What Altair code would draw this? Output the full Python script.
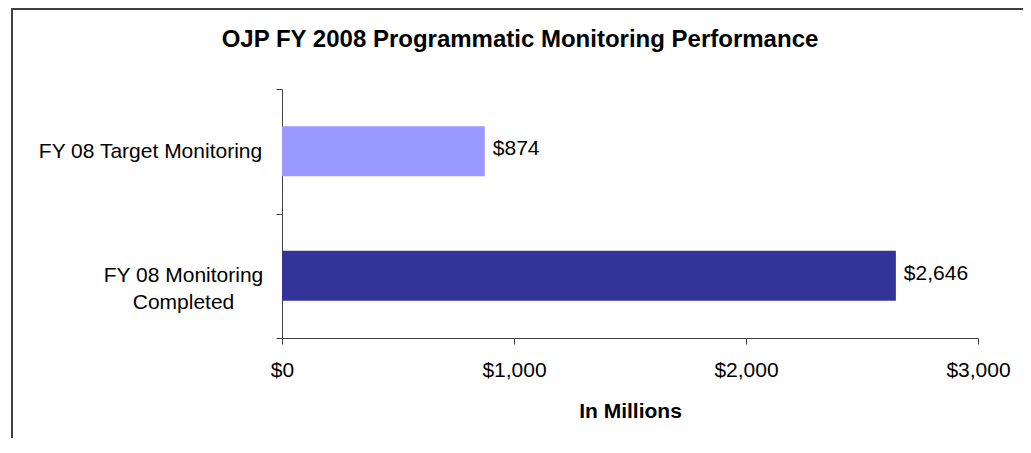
import altair as alt
import pandas as pd

categories = ["FY 08 Target Monitoring", "FY 08 Monitoring Completed"]
values = [874, 2646]
colors = ["#9999FF", "#333399"]
x_ticks = [0, 1000, 2000, 3000]
title_text = "OJP FY 2008 Programmatic Monitoring Performance"
x_title = "In Millions"

df = pd.DataFrame({"category": categories, "value": values})
FONT = "Liberation Sans"
AXC = "#404040"

label_expr = (
    f"datum.value == '{categories[1]}' ? ['FY 08 Monitoring', 'Completed'] : datum.label"
)

y_axis = alt.Axis(
    title=None,
    tickBand="extent",
    tickSize=6,
    tickColor=AXC,
    domainColor=AXC,
    grid=False,
    labelFont=FONT,
    labelFontSize=21,
    labelColor="black",
    labelAlign="center",
    labelBaseline="middle",
    labelLineHeight=27,
    labelLimit=400,
    labelPadding={"condition": {"test": f"datum.value == '{categories[0]}'", "value": 126}, "value": 93},
    labelExpr=label_expr,
)

y_scale = alt.Scale(paddingInner=0, paddingOuter=0)

x_axis = alt.Axis(
    values=x_ticks,
    format="$,.0f",
    title=x_title,
    tickSize=6,
    tickColor=AXC,
    domainColor=AXC,
    grid=False,
    labelFlush=False,
    labelFont=FONT,
    labelFontSize=21,
    labelColor="black",
    labelPadding=15,
    titleFont=FONT,
    titleFontSize=21,
    titleFontWeight="bold",
    titleColor="black",
    titlePadding=20,
)
x_scale = alt.Scale(domain=[0, 3000], nice=False)

bars = alt.Chart(df).mark_bar(height=alt.RelativeBandSize(0.4)).encode(
    x=alt.X("value:Q", scale=x_scale, axis=x_axis),
    y=alt.Y("category:N", sort=categories, scale=y_scale, axis=y_axis),
    color=alt.Color("category:N", scale=alt.Scale(domain=categories, range=colors), legend=None),
)

text = alt.Chart(df).mark_text(
    align="left", baseline="middle", dx=8, dy=-2, fontSize=21, font=FONT, color="black"
).encode(
    x=alt.X("value:Q"),
    y=alt.Y("category:N", sort=categories),
    text=alt.Text("value:Q", format="$,.0f"),
)

frame = alt.Chart(pd.DataFrame({"k": [0]})).mark_rect(
    filled=False, stroke=AXC, strokeWidth=2
).encode(
    x=alt.value(-270), x2=alt.value(1000), y=alt.value(-80), y2=alt.value(500)
)

chart = alt.layer(frame, bars, text).properties(
    width=696,
    height=249,
    title=alt.TitleParams(
        text=title_text,
        font=FONT,
        fontSize=24,
        fontWeight="bold",
        color="black",
        anchor="middle",
        frame="group",
        dx=-110,
        baseline="alphabetic",
        offset=-63,
    ),
    autosize=alt.AutoSizeParams(type="none"),
    padding={"left": 274, "top": 81, "right": 45, "bottom": 100},
).configure_view(strokeWidth=0)

chart.save("out.html", embed_options={"renderer": "svg", "actions": False})
